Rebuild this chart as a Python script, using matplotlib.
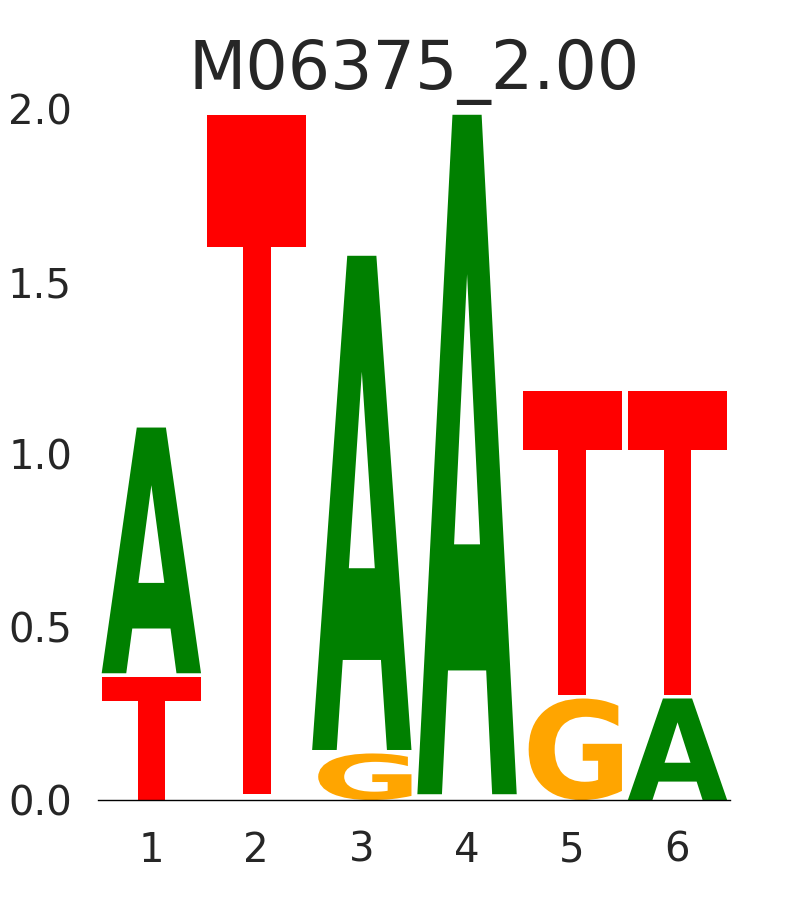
import numpy as np
import matplotlib
matplotlib.use("Agg")
import matplotlib.pyplot as plt
from matplotlib.textpath import TextPath
from matplotlib.patches import PathPatch
from matplotlib.font_manager import FontProperties
from matplotlib.transforms import Affine2D

title = "M06375_2.00"
positions = [1, 2, 3, 4, 5, 6]
letters = ["A", "C", "G", "T"]
# information content (bits) of each letter at each position
height_A = [0.721, 0.006, 1.440, 1.976, 0.000, 0.304]
height_C = [0.000, 0.005, 0.000, 0.005, 0.000, 0.000]
height_G = [0.000, 0.006, 0.145, 0.006, 0.304, 0.000]
height_T = [0.367, 1.976, 0.000, 0.006, 0.890, 0.890]
colors = {"A": "green", "C": "blue", "G": "orange", "T": "red"}

heights = np.array([height_A, height_C, height_G, height_T])

letter_width = 0.95
gap = 0.01
min_draw = 0.02
glyph_font = FontProperties(family="DejaVu Sans", weight="bold")


def draw_letter(ax, char, x, y0, h, color):
    tp = TextPath((0, 0), char, size=1, prop=glyph_font)
    verts = tp.vertices
    xmin, ymin = verts.min(axis=0)
    xmax, ymax = verts.max(axis=0)
    tr = (Affine2D().translate(-xmin, -ymin)
          .scale(letter_width / (xmax - xmin), h / (ymax - ymin))
          .translate(x - letter_width / 2, y0))
    path = tr.transform_path(tp)
    ax.add_patch(PathPatch(path, facecolor=color, edgecolor="none", lw=0))


plt.rcParams["text.color"] = "#262626"
plt.rcParams["xtick.color"] = "#262626"
plt.rcParams["ytick.color"] = "#262626"

fig = plt.figure(figsize=(8.1, 9), dpi=100)
ax = fig.add_axes([0.1215, 0.111, 0.7795, 0.768])

for i, pos in enumerate(positions):
    order = np.argsort(heights[:, i], kind="stable")
    y = 0.0
    for j in order:
        h = heights[j, i]
        if h <= 0:
            continue
        if h >= min_draw:
            draw_letter(ax, letters[j], pos, y, h - gap, colors[letters[j]])
        y += h

ax.set_xlim(0.5, 6.5)
ax.set_ylim(0, 2.0)
ax.set_xticks(positions)
ax.set_yticks([0.0, 0.5, 1.0, 1.5, 2.0])
ax.set_yticklabels(["0.0", "0.5", "1.0", "1.5", "2.0"])
for s in ["top", "right", "left"]:
    ax.spines[s].set_visible(False)
ax.spines["bottom"].set_color("black")
ax.spines["bottom"].set_linewidth(1.0)
ax.tick_params(axis="y", length=0, pad=19, labelsize=29)
ax.tick_params(axis="x", length=0, pad=22, labelsize=29)
ax.set_title(title, fontsize=48, pad=14)

plt.savefig("out.png", dpi=100)
